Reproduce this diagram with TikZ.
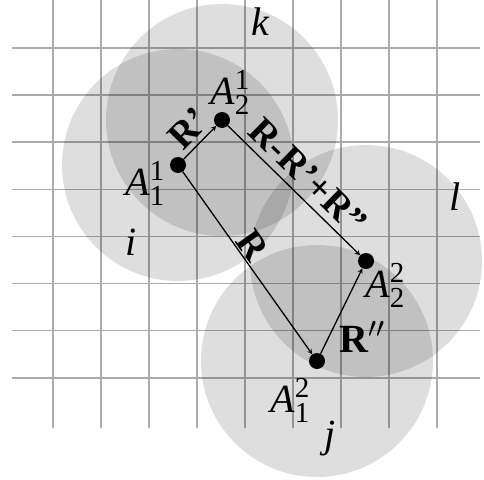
\documentclass[tikz,border=0pt]{standalone}
\usepackage{fix-cm}
\usepackage{amsmath}
\usepackage{fontspec}
\setmainfont{Liberation Serif}
\DeclareMathSizes{40}{40}{29}{20}
\usetikzlibrary{arrows}
\tikzstyle{gridln}=[black!33,line width=1.6pt]
\tikzstyle{zone}=[fill=black,fill opacity=0.13]
\tikzstyle{apoint}=[circle,fill=black,minimum size=16pt,inner sep=0pt]
\tikzstyle{vec}=[->,>=stealth,line width=1.3pt]
\tikzstyle{lbl}=[font=\fontsize{40}{44}\selectfont,inner sep=0pt]
\tikzstyle{vlbl}=[font=\fontsize{38}{42}\selectfont\bfseries,sloped,above]
\newcommand{\Apos}[2]{$\text{\textit{A}}_{\text{#1}}^{\text{#2}}$}

\begin{document}
\begin{tikzpicture}[x=1pt,y=-1pt]
\useasboundingbox (0,0) rectangle (484,479);
\node[apoint] (A11) at (178,165) {};
\node[apoint] (A21) at (222,120) {};
\node[apoint] (A22) at (366,261) {};
\node[apoint] (A12) at (317,361) {};
% grid
\foreach \gx in {0,...,8} \draw[gridln] (53+48*\gx,0) -- (53+48*\gx,428);
\foreach \gy in {0,...,7} \draw[gridln] (12,48+47.1*\gy) -- (480,48+47.1*\gy);
% zones
\fill[zone] (A11) circle (116);\fill[zone] (A21) circle (116);
\fill[zone] (A22) circle (116);\fill[zone] (A12) circle (116);
\node[lbl] (i) at (131,242) {\textit{i}};
\node[lbl] (k) at (261,22) {\textit{k}};
\node[lbl] (l) at (455,197) {\textit{l}};
\node[lbl] (j) at (330,439) {\textit{j}};
\node[lbl] (L11) at (145,183) {\Apos{1}{1}};
\node[lbl] (L21) at (230,92) {\Apos{2}{1}};
\node[lbl] (L22) at (385,285) {\Apos{2}{2}};
\node[lbl] (L12) at (290,400) {\Apos{1}{2}};
\draw[vec](A11)--node[vlbl,pos=0.55,inner sep=5pt]{R'}(A21);
\draw[vec](A21)--node[vlbl,pos=0.5,inner sep=7pt]{R-R'+R''}(A22);
\draw[vec](A11)--node[vlbl,pos=0.45,inner sep=1pt]{R}(A12);
\draw[vec](A12)--(A22);
\node[lbl] (Rpp) at (362,337) {\textbf{R}$''$};
\end{tikzpicture}
\end{document}
